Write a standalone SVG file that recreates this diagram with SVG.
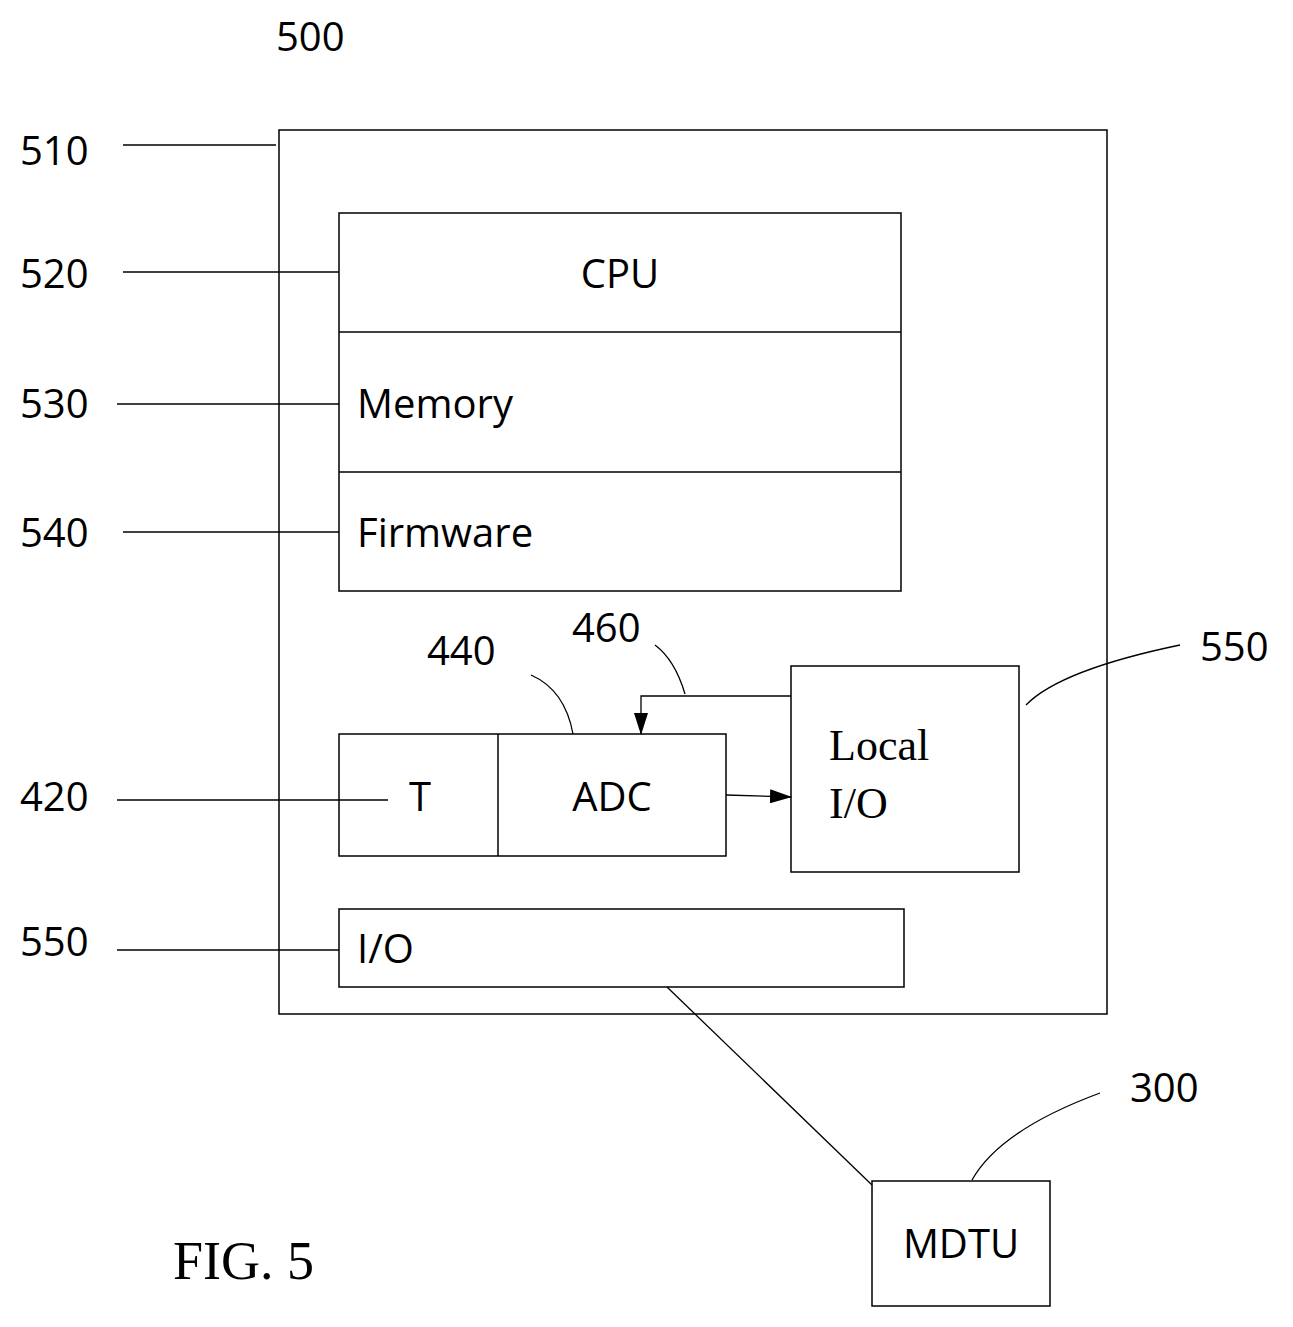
<svg xmlns="http://www.w3.org/2000/svg" width="1293" height="1327" viewBox="0 0 1293 1327">
<style>
.b{fill:none;stroke:#000;stroke-width:1.5}
.l{fill:none;stroke:#000;stroke-width:1.3}
.t{font-family:"Open Sans","Liberation Sans",sans-serif;font-size:40px;fill:#000}
.s{font-family:"Liberation Serif",serif;font-size:44px;fill:#000}
</style>
<defs><marker id="a" markerWidth="22" markerHeight="14" refX="21" refY="7" orient="auto" markerUnits="userSpaceOnUse"><path d="M0,0 L22,7 L0,14 Z" fill="#000"/></marker></defs>
<rect width="1293" height="1327" fill="#fff"/>
<g id="labels">
<text class="t" x="276" y="51">500</text>
<text class="t" x="20" y="165">510</text>
<text class="t" x="20" y="288">520</text>
<text class="t" x="20" y="418">530</text>
<text class="t" x="20" y="547">540</text>
<text class="t" x="20" y="811">420</text>
<text class="t" x="20" y="956">550</text>
<text class="t" x="427" y="665">440</text>
<text class="t" x="572" y="642">460</text>
<text class="t" x="1200" y="661">550</text>
<text class="t" x="1130" y="1102">300</text>
<text class="s" x="173" y="1279" style="font-size:54px">FIG. 5</text>
</g>
<g id="outer"><rect class="b" x="279" y="130" width="828" height="884"/></g>
<g id="cpu"><rect class="b" x="339" y="213" width="562" height="378"/><line class="b" x1="339" y1="332" x2="901" y2="332"/><line class="b" x1="339" y1="472" x2="901" y2="472"/>
<text class="t" x="620" y="288" text-anchor="middle">CPU</text>
<text class="t" x="357" y="418">Memory</text>
<text class="t" x="357" y="547">Firmware</text></g>
<g id="tadc"><rect class="b" x="339" y="734" width="387" height="122"/><line class="b" x1="498" y1="734" x2="498" y2="856"/>
<text class="t" x="420" y="811" text-anchor="middle">T</text>
<text class="t" x="612" y="811" text-anchor="middle">ADC</text></g>
<g id="localio"><rect class="b" x="791" y="666" width="228" height="206"/>
<text class="s" x="829" y="760">Local</text><text class="s" x="829" y="818">I/O</text></g>
<g id="io"><rect class="b" x="339" y="909" width="565" height="78"/><text class="t" x="357" y="963">I/O</text></g>
<g id="mdtu"><rect class="b" x="872" y="1181" width="178" height="125"/><text class="t" x="961" y="1258" text-anchor="middle">MDTU</text></g>
<g id="connectors">
<line class="l" x1="123" y1="145" x2="276" y2="145"/>
<line class="l" x1="123" y1="272" x2="339" y2="272"/>
<line class="l" x1="117" y1="404" x2="339" y2="404"/>
<line class="l" x1="123" y1="532" x2="339" y2="532"/>
<line class="l" x1="117" y1="800" x2="388" y2="800"/>
<line class="l" x1="117" y1="950" x2="339" y2="950"/>
<path class="l" d="M791,696 H641 V734" marker-end="url(#a)"/>
<path class="l" d="M726,795 L791,797" marker-end="url(#a)"/>
<path class="l" d="M685,694 Q675,660 655,645"/>
<path class="l" d="M573,734 Q565,690 531,675"/>
<path class="l" d="M1026,705 Q1060,670 1180,645"/>
<path class="l" d="M972,1180 Q1000,1130 1100,1093"/>
<line class="l" x1="667" y1="987" x2="872" y2="1185"/>
</g>
</svg>
